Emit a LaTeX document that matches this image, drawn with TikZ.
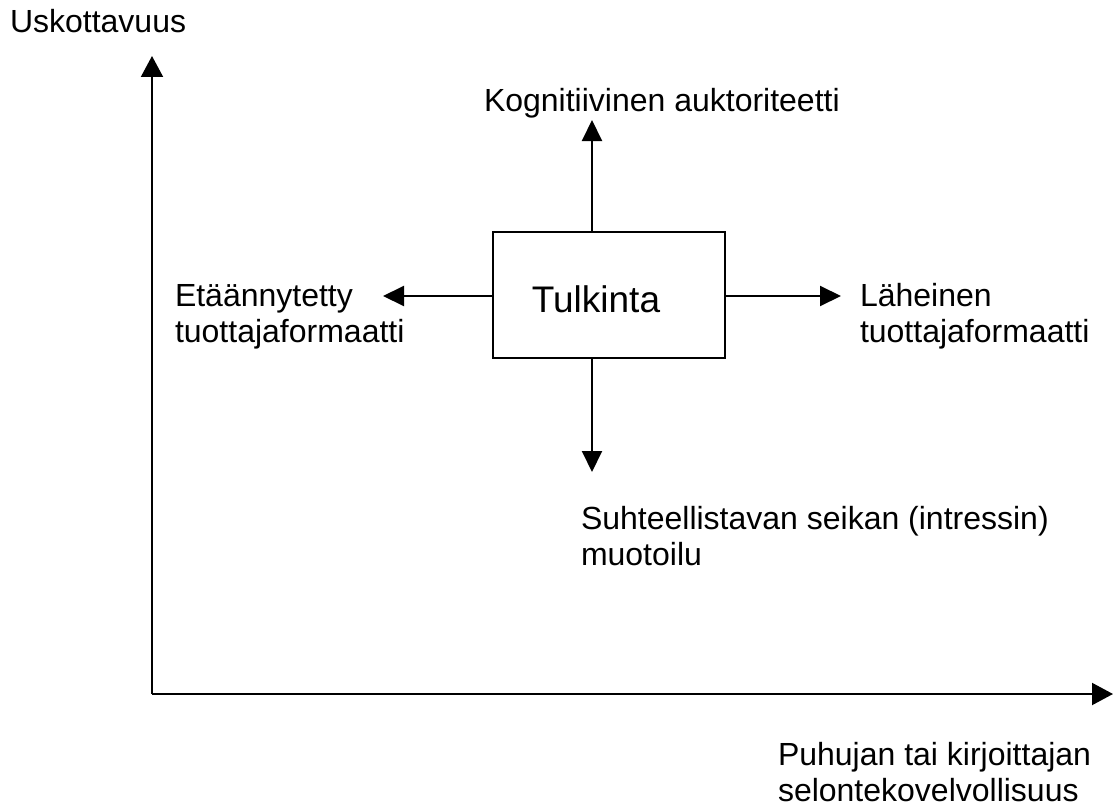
\documentclass[tikz,border=0pt]{standalone}
\usepackage{fontspec}
\setmainfont{Liberation Sans}
\usetikzlibrary{arrows.meta}
\begin{document}
\begin{tikzpicture}[x=1pt,y=-1pt,
  line width=2pt,
  lbl/.style={inner sep=0pt,anchor=base west,align=left,
    font=\fontsize{32}{36}\selectfont},
  axisarrow/.style={-{Triangle[length=21pt,width=22pt]}},
  smallarrow/.style={-{Triangle[length=21pt,width=20pt]}}]
\useasboundingbox (0,0) rectangle (1117,808);

% axes
\coordinate (origin) at (152,694);
\coordinate (ytip) at (152,56);
\coordinate (xtip) at (1113,694);
\draw[axisarrow] (origin) -- (ytip);
\draw[axisarrow] (origin) -- (xtip);

% central box
\node[draw,minimum width=232pt,minimum height=126pt,inner sep=0pt] (box) at (609,295) {};
\node[inner sep=0pt,anchor=base,font=\fontsize{37}{44}\selectfont] (tulk) at (596,312) {Tulkinta};

% arrow tips around the box
\coordinate (uptip) at (592,120);
\coordinate (downtip) at (592,472);
\coordinate (lefttip) at (383,296);
\coordinate (righttip) at (841,296);
\draw[smallarrow] (uptip |- box.north) -- (uptip);
\draw[smallarrow] (downtip |- box.south) -- (downtip);
\draw[smallarrow] (lefttip -| box.west) -- (lefttip);
\draw[smallarrow] (righttip -| box.east) -- (righttip);

% labels (multi-line labels are anchored on their last line)
\node[lbl] (usk) at (9,33) {Uskottavuus};
\node[lbl] (kog) at (483,111) {Kognitiivinen auktoriteetti};
\node[lbl] (eta) at (174,342) {Etäännytetty\\tuottajaformaatti};
\node[lbl] (lah) at (859,342) {Läheinen\\tuottajaformaatti};
\node[lbl] (suh) at (580,565) {Suhteellistavan seikan (intressin)\\muotoilu};
\node[lbl] (puh) at (777,801) {Puhujan tai kirjoittajan\\selontekovelvollisuus};
\end{tikzpicture}
\end{document}
